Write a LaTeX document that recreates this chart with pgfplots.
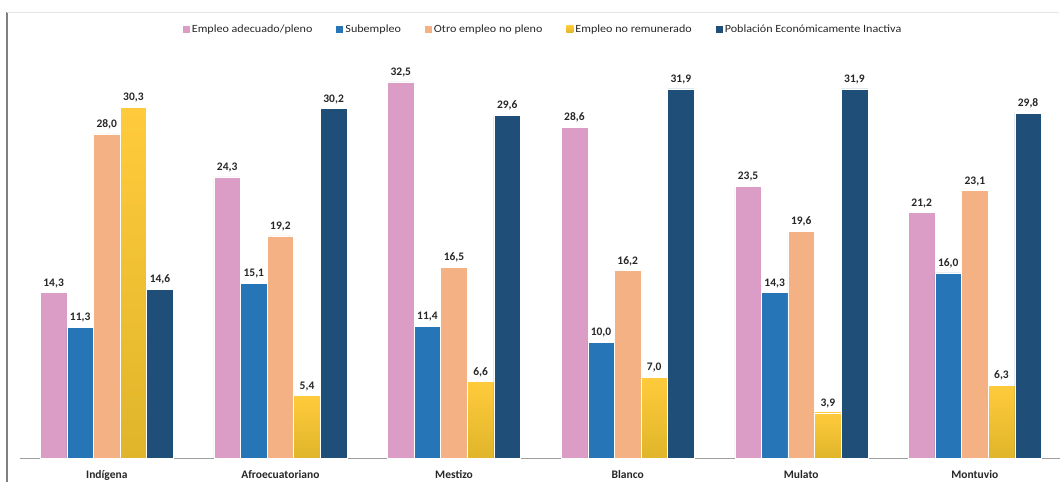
\documentclass[border=0pt]{standalone}
\usepackage{pgfplots}
\pgfplotsset{compat=1.18}
\usepackage{fontspec}
\setmainfont{Carlito}
\newfontfamily\legendfont[FakeStretch=1.1]{Carlito}

\definecolor{cPleno}{HTML}{DB9DC5}
\definecolor{cSub}{HTML}{2675B6}
\definecolor{cOtro}{HTML}{F4B183}
\definecolor{cRemTop}{HTML}{FFCB3C}
\definecolor{cRemMid}{HTML}{FAC411}
\definecolor{cRemBot}{HTML}{E0B52A}
\definecolor{cPEI}{HTML}{1F4E79}
\definecolor{cText}{HTML}{262626}

\begin{document}
\begin{tikzpicture}[x=1pt,y=1pt]
% frame lines of the chart area
\draw[color=black!50, line width=1.2pt] (7,0) -- (7,470);
\draw[color=black!10, line width=0.8pt] (7,470) -- (1059,470);

\begin{axis}[
  at={(20pt,24pt)}, anchor=south west,
  scale only axis,
  width=1040pt, height=405pt,
  xmin=-0.5, xmax=5.49,
  ymin=0, ymax=35,
  axis y line=none,
  axis x line*=bottom,
  x axis line style={color=black!38, line width=0.8pt, -},
  xtick={0,1,2,3,4,5},
  xticklabels={Indígena, Afroecuatoriano, Mestizo, Blanco, Mulato, Montuvio},
  major tick length=0pt,
  xticklabel style={font=\fontsize{11.5}{13}\selectfont\bfseries, text=cText,
                    anchor=base, yshift=-20pt, inner sep=0pt},
  ybar,
  bar width=26.6pt,
  clip=false,
  nodes near coords,
  nodes near coords style={font=\fontsize{11.5}{13}\selectfont\bfseries, text=cText,
      anchor=base, yshift=6.5pt, inner sep=0pt, fill=none, draw=none,
      /pgf/number format/.cd, fixed, fixed zerofill, precision=1, use comma,
      assume math mode=true},
  legend columns=5,
  legend style={draw=none, fill=none,
      at={(axis description cs:0.503,1.059)}, anchor=center,
      font=\fontsize{11}{13}\legendfont, text=cText,
      /tikz/every even column/.append style={column sep=22pt},
      nodes={inner xsep=2pt, inner ysep=0pt}},
  legend cell align=left,
  legend image code/.code={%
      \path[#1, draw=none] (0pt,-3.5pt) rectangle (7pt,3.5pt);},
  every axis plot/.append style={draw=white, line width=0.5pt},
  remstyle/.style={top color=cRemTop, middle color=cRemMid, bottom color=cRemBot,
      bar shift=26.6pt},
]
\addplot[fill=cPleno, bar shift=-53.2pt] coordinates {(0,14.3) (1,24.3) (2,32.5) (3,28.6) (4,23.5) (5,21.2)};
\addplot[fill=cSub, bar shift=-26.6pt] coordinates {(0,11.3) (1,15.1) (2,11.4) (3,10.0) (4,14.3) (5,16.0)};
\addplot[fill=cOtro, bar shift=0pt] coordinates {(0,28.0) (1,19.2) (2,16.5) (3,16.2) (4,19.6) (5,23.1)};
% unpaid work: one plot per bar so each bar carries its own gradient
\addplot[remstyle] coordinates {(0,30.3)};
\addplot[remstyle, forget plot] coordinates {(1,5.4)};
\addplot[remstyle, forget plot] coordinates {(2,6.6)};
\addplot[remstyle, forget plot] coordinates {(3,7.0)};
\addplot[remstyle, forget plot] coordinates {(4,3.9)};
\addplot[remstyle, forget plot] coordinates {(5,6.3)};
\addplot[fill=cPEI, bar shift=53.2pt] coordinates {(0,14.6) (1,30.2) (2,29.6) (3,31.9) (4,31.9) (5,29.8)};
\legend{Empleo adecuado/pleno, Subempleo, Otro empleo no pleno, Empleo no remunerado, Población Económicamente Inactiva}
\end{axis}
\pgfresetboundingbox
\useasboundingbox (0,0) rectangle (1060,482);
\end{tikzpicture}
\end{document}
